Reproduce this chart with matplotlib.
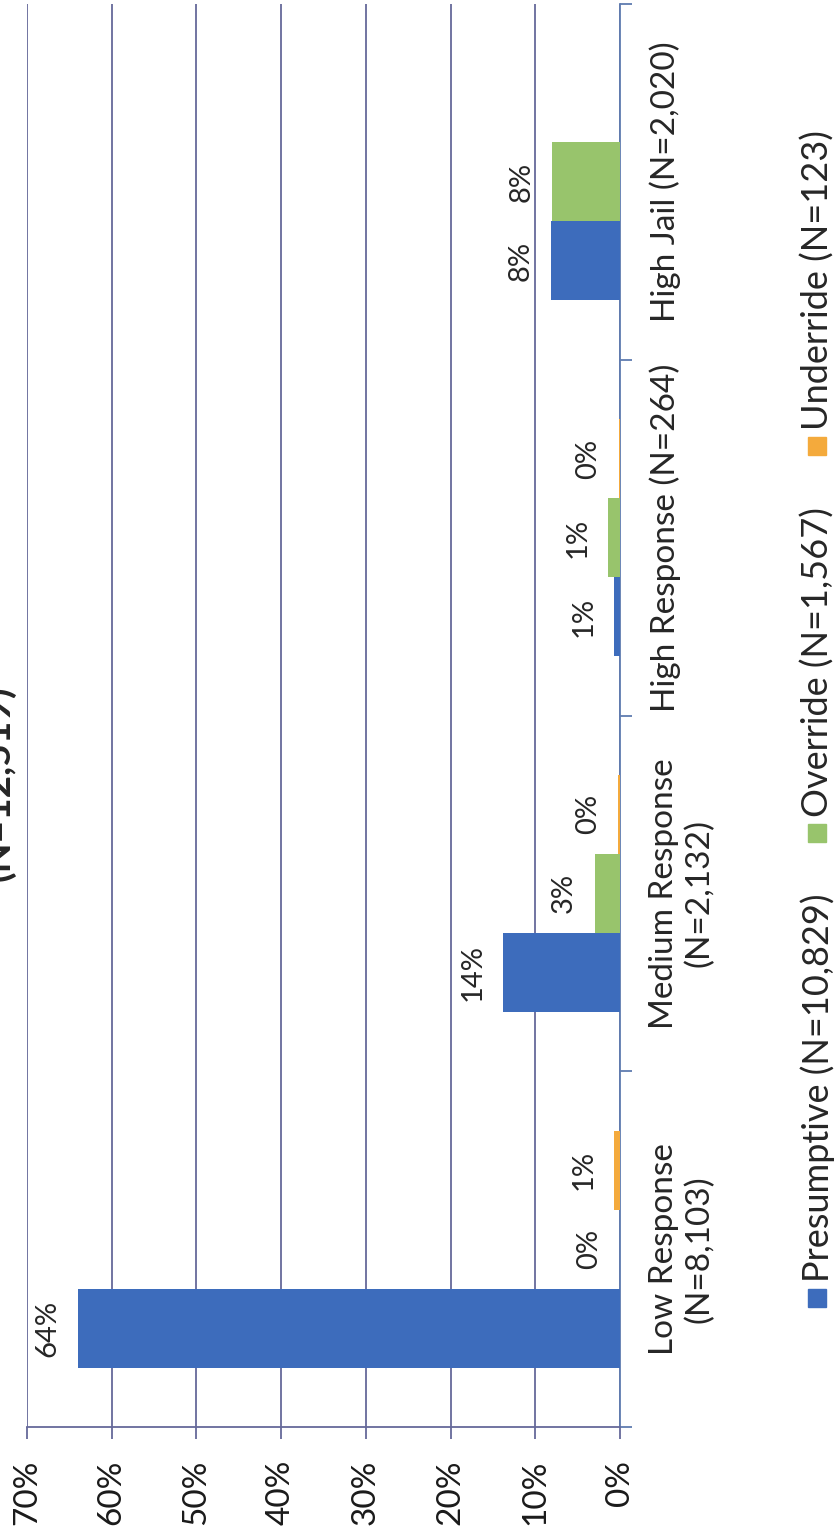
import numpy as np
import matplotlib
matplotlib.use("Agg")
import matplotlib.pyplot as plt
from matplotlib.patches import Rectangle

plt.rcParams['font.family'] = ['Lato', 'DejaVu Sans']

# data (percent of all cases, N=12,519)
categories = ['Low Response\n(N=8,103)', 'Medium Response\n(N=2,132)',
              'High Response (N=264)', 'High Jail (N=2,020)']
series = ['Presumptive (N=10,829)', 'Override (N=1,567)', 'Underride (N=123)']
presumptive = [64.0, 13.8, 0.7, 8.1]
override = [0.04, 3.0, 1.4, 8.0]
underride = [0.7, 0.2, 0.1, np.nan]
value_ticks = [0, 10, 20, 30, 40, 50, 60, 70]
title = '(N=12,519)'

colors = ['#3d6cbc', '#98c46c', '#f4aa3c']
grid_c = '#66699a'
axis_c = '#5f7cb0'
text_c = '#262626'

# the page is scanned sideways, so the whole chart is drawn turned 90 degrees
W, H = 839, 1536
fig = plt.figure(figsize=(W / 100, H / 100), dpi=100)


def fx(px):
    return px / W


def fy(py):
    return 1 - py / H


ax = fig.add_axes([fx(27), fy(1427), fx(620) - fx(27), fy(4) - fy(1427)])

y = np.arange(len(categories))
bar_h = 0.222
for k, (vals, col) in enumerate(zip([presumptive, override, underride], colors)):
    pos = y + (k - 1) * bar_h
    ax.barh(pos, vals, height=bar_h, color=col, zorder=3)
    for p, v in zip(pos, vals):
        if np.isnan(v):
            continue
        ax.annotate(f'{v:.0f}%', xy=(v, p), xytext=(-22, 0), textcoords='offset points',
                    rotation=90, ha='center', va='center', fontsize=21, color=text_c)

ax.set_xlim(70, 0)
ax.set_ylim(-0.5, 3.5)

ax.set_xticks(value_ticks)
ax.set_xticklabels([f'{t}%' for t in value_ticks], rotation=90, fontsize=24, color='#1a1a1a')
ax.tick_params(axis='x', length=8.6, width=1.3, color=grid_c, pad=15)
ax.grid(axis='x', color=grid_c, linewidth=1.3)
ax.set_axisbelow(True)

ax.set_yticks(np.arange(-0.5, 4, 1))
ax.set_yticklabels([])
ax.set_yticks(y, minor=True)
ax.set_yticklabels(categories, minor=True, rotation=90, ha='left', va='center',
                   multialignment='center', color=text_c)
ax.tick_params(axis='y', which='major', left=False, right=True, length=8.6,
               width=1.3, color=axis_c)
ax.tick_params(axis='y', which='minor', left=False, right=True, labelleft=False,
               labelright=True, length=0, pad=21, labelsize=24)

for s in ['top', 'left']:
    ax.spines[s].set_visible(False)
ax.spines['bottom'].set_color(grid_c)
ax.spines['bottom'].set_linewidth(1.3)
ax.spines['right'].set_color(axis_c)
ax.spines['right'].set_linewidth(1.3)

# legend, drawn by hand so it can be turned with the chart
legend_y = [1298, 833, 446]
for name, col, yc in zip(series, colors, legend_y):
    fig.patches.append(Rectangle((fx(808), fy(yc + 9)), 18 / W, 18 / H,
                                 transform=fig.transFigure, color=col, figure=fig))
    fig.text(fx(818), fy(yc - 16), name, rotation=90, ha='center', va='bottom',
             fontsize=26, color=text_c)

fig.text(fx(10), fy(685), title, rotation=90, rotation_mode='anchor', ha='right',
         va='baseline', fontsize=28, fontweight='bold', color=text_c)

fig.savefig('out.png', dpi=100)
